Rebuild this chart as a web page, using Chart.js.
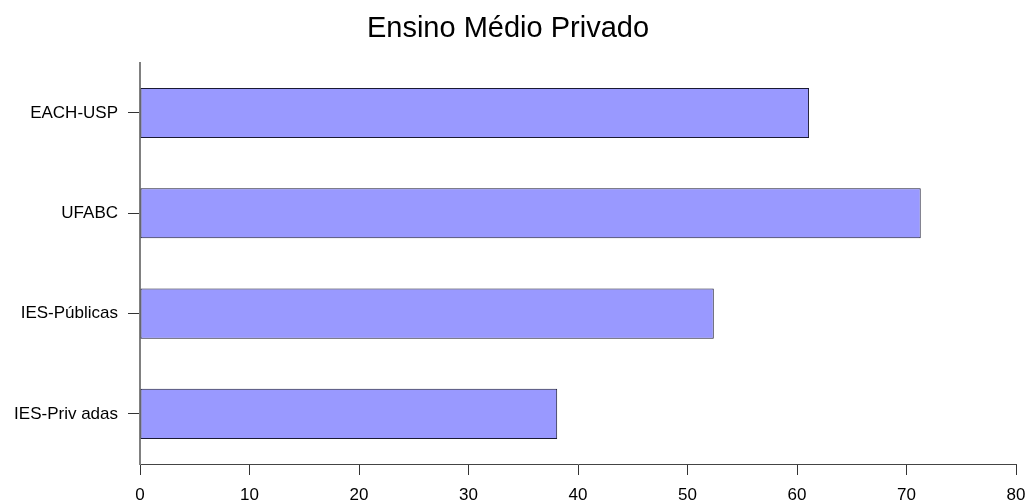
<!DOCTYPE html>
<html>
<head>
<meta charset="utf-8">
<script src="https://cdn.jsdelivr.net/npm/chart.js@4.4.1/dist/chart.umd.min.js"></script>
<style>
  html, body { margin: 0; padding: 0; background: #fff; }
  #wrap { width: 1029px; height: 504px; }
</style>
</head>
<body>
<div id="wrap"><canvas id="chart" width="1029" height="504"></canvas></div>
<script>
// data
const categories = ['EACH-USP', 'UFABC', 'IES-Públicas', 'IES-Priv adas'];
const values = [61.1, 71.3, 52.4, 38.1];
const xTicks = [0, 10, 20, 30, 40, 50, 60, 70, 80];

const ctx = document.getElementById('chart');
new Chart(ctx, {
  type: 'bar',
  data: {
    labels: categories,
    datasets: [{
      label: 'Ensino Médio Privado',
      data: values,
      backgroundColor: '#9999ff',
      borderColor: '#1a1a33',
      borderWidth: 1,
      borderSkipped: false,
      barPercentage: 0.5,
      categoryPercentage: 1.0
    }]
  },
  options: {
    indexAxis: 'y',
    responsive: false,
    animation: false,
    devicePixelRatio: 1,
    layout: { padding: { left: 0, right: 13, top: 0, bottom: 0 } },
    plugins: {
      legend: { display: false },
      tooltip: { enabled: false },
      title: {
        display: true,
        text: 'Ensino Médio Privado',
        color: '#000',
        font: { family: 'Liberation Sans, Arial, sans-serif', size: 29, weight: 'normal' },
        padding: { top: 12, bottom: 16 }
      }
    },
    scales: {
      x: {
        min: 0,
        max: 80,
        afterBuildTicks: (scale) => { scale.ticks = xTicks.map(v => ({ value: v })); },
        afterFit: (scale) => {
          scale.height = 40;
          scale.paddingLeft = 0;
          scale.paddingRight = 0;
        },
        grid: { drawOnChartArea: false, drawTicks: true, tickLength: 11, color: '#333' },
        border: { color: '#444', width: 1 },
        ticks: {
          color: '#000',
          padding: 10,
          maxRotation: 0,
          font: { family: 'Liberation Sans, Arial, sans-serif', size: 17 }
        }
      },
      y: {
        afterFit: (scale) => { scale.width = 140; },
        grid: { offset: false, drawOnChartArea: false, drawTicks: true, tickLength: 12, color: '#333' },
        border: { color: '#808080', width: 2 },
        ticks: {
          color: '#000',
          padding: 10,
          font: { family: 'Liberation Sans, Arial, sans-serif', size: 17 }
        }
      }
    }
  }
});
</script>
</body>
</html>
